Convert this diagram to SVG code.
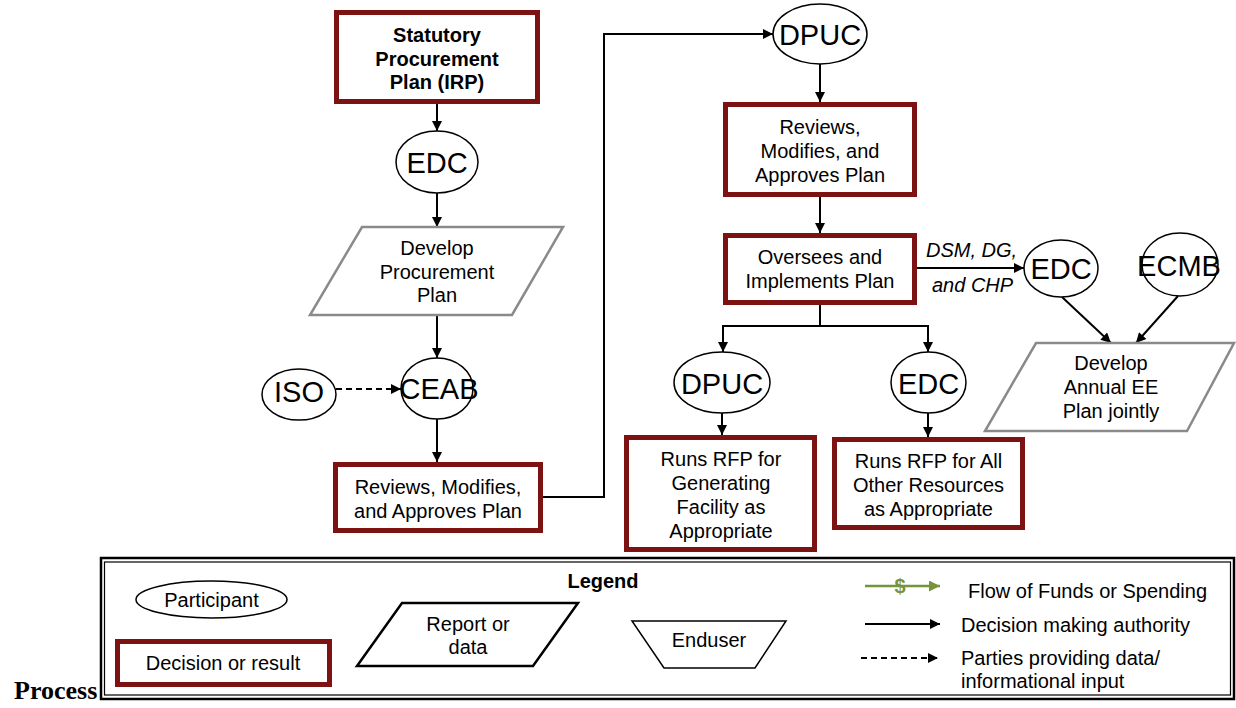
<svg xmlns="http://www.w3.org/2000/svg" width="1236" height="708" viewBox="0 0 1236 708">
<style>
.dec{fill:#fff;stroke:#7d1213;stroke-width:5}
.part{fill:#fff;stroke:#000;stroke-width:1.5}
.rep{fill:#fff;stroke:#8a8a8a;stroke-width:2.5}
.t{font-family:"Liberation Sans",Arial,sans-serif;font-size:20px;fill:#000;text-anchor:middle}
.tl{font-family:"Liberation Sans",Arial,sans-serif;font-size:20px;fill:#000}
.tp{font-size:29px}
.b{font-weight:bold}
.i{font-style:italic}
.conn{stroke:#000;stroke-width:2;fill:none}
</style>
<defs>
<marker id="ah" viewBox="0 0 10 10" refX="10" refY="5" markerWidth="11" markerHeight="10" markerUnits="userSpaceOnUse" orient="auto">
<path d="M0,0 L10,5 L0,10 z" fill="#000"/>
</marker>
<marker id="ahg" viewBox="0 0 10 10" refX="10" refY="5" markerWidth="13" markerHeight="11" markerUnits="userSpaceOnUse" orient="auto">
<path d="M0,0 L10,5 L0,10 z" fill="#77933c"/>
</marker>
</defs>
<rect width="1236" height="708" fill="#fff"/>

<g id="connectors">
<line class="conn" x1="437" y1="104" x2="437" y2="131" marker-end="url(#ah)"/>
<line class="conn" x1="437" y1="193" x2="437" y2="227" marker-end="url(#ah)"/>
<line class="conn" x1="437" y1="315" x2="437" y2="358" marker-end="url(#ah)"/>
<line class="conn" x1="336" y1="389" x2="401" y2="389" stroke-dasharray="6,4" marker-end="url(#ah)"/>
<line class="conn" x1="437" y1="419" x2="437" y2="462" marker-end="url(#ah)"/>
<path class="conn" d="M543,497 H604 V34 H773" marker-end="url(#ah)"/>
<line class="conn" x1="820" y1="64" x2="820" y2="102" marker-end="url(#ah)"/>
<line class="conn" x1="820" y1="197" x2="820" y2="233" marker-end="url(#ah)"/>
<line class="conn" x1="917" y1="268" x2="1024" y2="268" marker-end="url(#ah)"/>
<path class="conn" d="M820,305 V326 H723 V352" marker-end="url(#ah)"/>
<path class="conn" d="M820,326 H928 V352" marker-end="url(#ah)"/>
<line class="conn" x1="722" y1="413" x2="722" y2="435" marker-end="url(#ah)"/>
<line class="conn" x1="928" y1="413" x2="928" y2="437" marker-end="url(#ah)"/>
<line class="conn" x1="1062" y1="297" x2="1111" y2="343" marker-end="url(#ah)"/>
<line class="conn" x1="1178" y1="296" x2="1136" y2="343" marker-end="url(#ah)"/>
</g>

<g id="statutory">
<rect class="dec" x="336.5" y="12.5" width="201" height="89"/>
<text class="t b" x="437" y="42">Statutory</text>
<text class="t b" x="437" y="65.5">Procurement</text>
<text class="t b" x="437" y="89">Plan (IRP)</text>
</g>

<g id="edc1">
<ellipse class="part" cx="437" cy="162" rx="41" ry="31"/>
<text class="t tp" x="437" y="172.5">EDC</text>
</g>

<g id="develop-procurement">
<polygon class="rep" points="362,227 563,227 512,315 310,315"/>
<text class="t" x="437" y="255">Develop</text>
<text class="t" x="437" y="278.5">Procurement</text>
<text class="t" x="437" y="302">Plan</text>
</g>

<g id="iso">
<ellipse class="part" cx="299" cy="394.5" rx="37" ry="25.5"/>
<text class="t tp" x="299" y="402">ISO</text>
</g>

<g id="ceab">
<ellipse class="part" cx="437" cy="388.5" rx="36" ry="30.5"/>
<text class="t tp" x="439" y="399">CEAB</text>
</g>

<g id="reviews1">
<rect class="dec" x="335.5" y="464.5" width="205" height="66"/>
<text class="t" x="438" y="494">Reviews, Modifies,</text>
<text class="t" x="438" y="517.5">and Approves Plan</text>
</g>

<g id="dpuc1">
<ellipse class="part" cx="820" cy="34" rx="47" ry="30"/>
<text class="t tp" x="820" y="45">DPUC</text>
</g>

<g id="reviews2">
<rect class="dec" x="725.5" y="104.5" width="189" height="90"/>
<text class="t" x="820" y="134">Reviews,</text>
<text class="t" x="820" y="158">Modifies, and</text>
<text class="t" x="820" y="181.5">Approves Plan</text>
</g>

<g id="oversees">
<rect class="dec" x="725.5" y="235.5" width="189" height="67"/>
<text class="t" x="820" y="264">Oversees and</text>
<text class="t" x="820" y="288">Implements Plan</text>
</g>

<g id="label-dsm">
<text class="tl i" x="926" y="257">DSM, DG,</text>
<text class="tl i" x="932" y="292">and CHP</text>
</g>

<g id="edc2">
<ellipse class="part" cx="1061" cy="268.5" rx="37" ry="28.5"/>
<text class="t tp" x="1061" y="278.5">EDC</text>
</g>

<g id="ecmb">
<ellipse class="part" cx="1180" cy="264.5" rx="38" ry="31.5"/>
<text class="t tp" x="1179" y="276">ECMB</text>
</g>

<g id="develop-annual">
<polygon class="rep" points="1036,343 1234,343 1187,431 985,431"/>
<text class="t" x="1111" y="370">Develop</text>
<text class="t" x="1111" y="394">Annual EE</text>
<text class="t" x="1111" y="417.5">Plan jointly</text>
</g>

<g id="dpuc2">
<ellipse class="part" cx="722" cy="382.5" rx="48" ry="30.5"/>
<text class="t tp" x="722" y="393.5">DPUC</text>
</g>

<g id="edc3">
<ellipse class="part" cx="928.5" cy="382.5" rx="37.5" ry="30.5"/>
<text class="t tp" x="928.5" y="393.5">EDC</text>
</g>

<g id="rfp-generating">
<rect class="dec" x="626.5" y="437.5" width="188" height="112"/>
<text class="t" x="721" y="465.5">Runs RFP for</text>
<text class="t" x="721" y="489.5">Generating</text>
<text class="t" x="721" y="513.5">Facility as</text>
<text class="t" x="721" y="537.5">Appropriate</text>
</g>

<g id="rfp-other">
<rect class="dec" x="834.5" y="439.5" width="188" height="88"/>
<text class="t" x="928.5" y="467.5">Runs RFP for All</text>
<text class="t" x="928.5" y="491.5">Other Resources</text>
<text class="t" x="928.5" y="515.5">as Appropriate</text>
</g>

<text x="14" y="699" font-family="'Liberation Serif','Times New Roman',serif" font-size="26" font-weight="bold" fill="#000">Process</text>

<g id="legend">
<rect x="101" y="558" width="1133" height="141" fill="#fff" stroke="#000" stroke-width="2.5"/>
<rect x="104.5" y="562" width="1126" height="133" fill="none" stroke="#000" stroke-width="1.2"/>
<text class="t b" x="603" y="588">Legend</text>
<ellipse class="part" cx="211.5" cy="599.5" rx="75.5" ry="18.5"/>
<text class="t" x="211.5" y="607">Participant</text>
<rect class="dec" x="117.5" y="641.5" width="212" height="43"/>
<text class="t" x="223" y="670">Decision or result</text>
<polygon points="402,603 578,603 533,666 357,666" fill="#fff" stroke="#000" stroke-width="2.5"/>
<text class="t" x="468" y="631">Report or</text>
<text class="t" x="468" y="654">data</text>
<polygon points="632,621 786,621 755,668 664,668" fill="#fff" stroke="#000" stroke-width="1.5"/>
<text class="t" x="709" y="647">Enduser</text>
<line x1="865" y1="586" x2="940" y2="586" stroke="#77933c" stroke-width="2.5" marker-end="url(#ahg)"/>
<text x="900" y="593" font-family="'Liberation Sans',Arial,sans-serif" font-size="20" font-weight="bold" fill="#77933c" text-anchor="middle">$</text>
<text class="tl" x="968" y="598">Flow of Funds or Spending</text>
<line class="conn" x1="865" y1="624" x2="940" y2="624" marker-end="url(#ah)"/>
<text class="tl" x="961" y="632">Decision making authority</text>
<line class="conn" x1="861" y1="658" x2="938" y2="658" stroke-dasharray="6,4" marker-end="url(#ah)"/>
<text class="tl" x="961" y="665">Parties providing data/</text>
<text class="tl" x="961" y="688">informational input</text>
</g>
</svg>
